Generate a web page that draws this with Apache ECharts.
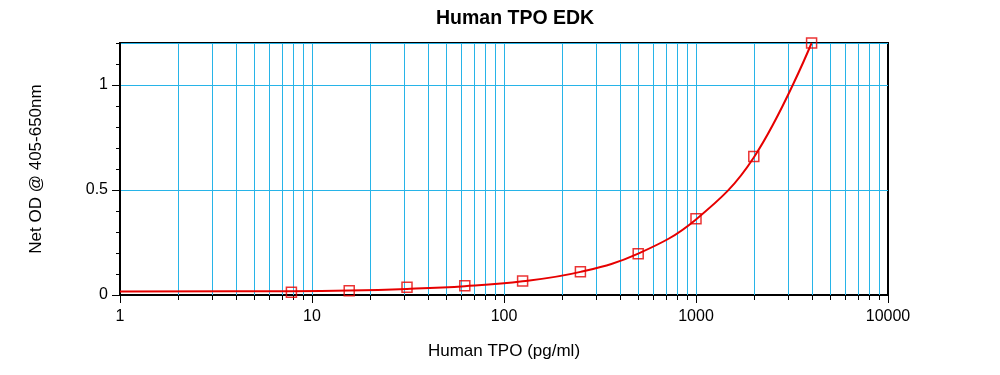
<!DOCTYPE html>
<html>
<head>
<meta charset="utf-8">
<script src="https://cdn.jsdelivr.net/npm/echarts@6/dist/echarts.min.js"></script>
<style>
html,body{margin:0;padding:0;background:#fff;}
#chart{width:1000px;height:375px;}
</style>
</head>
<body>
<div id="chart"></div>
<script>
// Standards (pg/ml) and measured net OD
const concentrations = [7.8125, 15.625, 31.25, 62.5, 125, 250, 500, 1000, 2000, 4000];
const odValues = [0.013, 0.020, 0.037, 0.044, 0.067, 0.111, 0.197, 0.363, 0.659, 1.2];
// Fitted curve
const curveX = [1, 7.8125, 15.625, 31.25, 62.5, 125, 250, 500, 1000, 2000, 4000];
const curveY = [0.017, 0.018, 0.021, 0.029, 0.042, 0.065, 0.11, 0.197, 0.36, 0.655, 1.2];
// Axis ticks
const xMajorTicks = [1, 10, 100, 1000, 10000];
const xGridValues = [2,3,4,5,6,7,8,9,10,20,30,40,50,60,70,80,90,100,200,300,400,500,600,700,800,900,1000,2000,3000,4000,5000,6000,7000,8000,9000];
const yMajorTicks = [0, 0.5, 1];

const font = '"Liberation Sans", Arial, sans-serif';
const gridColor = '#27b4e8';
const red = '#e60000';

const chart = echarts.init(document.getElementById('chart'), null, {renderer: 'canvas'});
const yMin = 0, yMax = 1.2;

chart.setOption({
  animation: false,
  backgroundColor: '#fff',
  title: {
    text: 'Human TPO EDK',
    left: 436, top: 9,
    padding: 0,
    textStyle: {fontFamily: font, fontSize: 19.5, fontWeight: 'bold', color: '#000'}
  },
  grid: {left: 120, right: 112, top: 43, bottom: 80, show: true, borderColor: '#000', borderWidth: 2, backgroundColor: 'transparent'},
  xAxis: {
    type: 'log', logBase: 10, min: 1, max: 10000,
    name: 'Human TPO (pg/ml)', nameLocation: 'middle', nameGap: 48,
    nameTextStyle: {fontFamily: font, fontSize: 17, color: '#000'},
    axisLine: {show: true, lineStyle: {color: '#000', width: 2}},
    axisTick: {show: true, length: 8, lineStyle: {color: '#000', width: 1}},
    axisLabel: {fontFamily: font, fontSize: 16, color: '#000', margin: 14,
      formatter: v => (xMajorTicks.indexOf(Math.round(v)) >= 0 ? String(Math.round(v)) : '')},
    splitLine: {show: false},
    minorTick: {show: false}
  },
  yAxis: [{
    type: 'value', min: yMin, max: yMax, interval: 0.5,
    name: 'Net OD @ 405-650nm', nameLocation: 'middle', nameGap: 75,
    nameTextStyle: {fontFamily: font, fontSize: 17, color: '#000'},
    axisLine: {show: true, lineStyle: {color: '#000', width: 2}},
    axisTick: {show: true, length: 8, lineStyle: {color: '#000', width: 1}},
    axisLabel: {fontFamily: font, fontSize: 16, color: '#000', margin: 12, showMaxLabel: false,
      formatter: v => (yMajorTicks.indexOf(v) >= 0 ? String(v) : '')},
    splitLine: {show: true, lineStyle: {color: gridColor, width: 1}}
  }, {
    type: 'value', min: yMin, max: yMax, interval: 0.1, position: 'left',
    axisLine: {show: false},
    axisTick: {show: true, length: 4, lineStyle: {color: '#000', width: 1}},
    axisLabel: {show: false},
    splitLine: {show: false}
  }],
  series: [{
    type: 'custom',
    z: 1,
    silent: true,
    data: xGridValues.map(v => [v, 0]),
    encode: {x: 0, y: 1},
    renderItem: function (params, api) {
      const v = api.value(0);
      const top = api.coord([v, yMax]);
      const bot = api.coord([v, yMin]);
      const isMajor = Math.abs(Math.log10(v) - Math.round(Math.log10(v))) < 1e-9;
      const children = [{
        type: 'line',
        shape: {x1: Math.round(top[0]) + 0.5, y1: top[1], x2: Math.round(bot[0]) + 0.5, y2: bot[1]},
        style: {stroke: gridColor, lineWidth: 1}
      }];
      if (!isMajor) {
        children.push({
          type: 'line',
          shape: {x1: Math.round(bot[0]) + 0.5, y1: bot[1], x2: Math.round(bot[0]) + 0.5, y2: bot[1] + 5},
          style: {stroke: '#000', lineWidth: 1}
        });
      }
      return {type: 'group', children: children};
    }
  }, {
    type: 'line',
    z: 3,
    data: curveX.map((x, i) => [x, curveY[i]]),
    smooth: 0.4,
    showSymbol: false,
    symbol: 'none',
    lineStyle: {color: red, width: 2},
    silent: true
  }, {
    type: 'scatter',
    z: 4,
    data: concentrations.map((x, i) => [x, odValues[i]]),
    symbol: 'rect',
    symbolSize: 10,
    itemStyle: {color: 'rgba(255,255,255,0)', borderColor: red, borderWidth: 1.5},
    silent: true
  }]
});
</script>
</body>
</html>
